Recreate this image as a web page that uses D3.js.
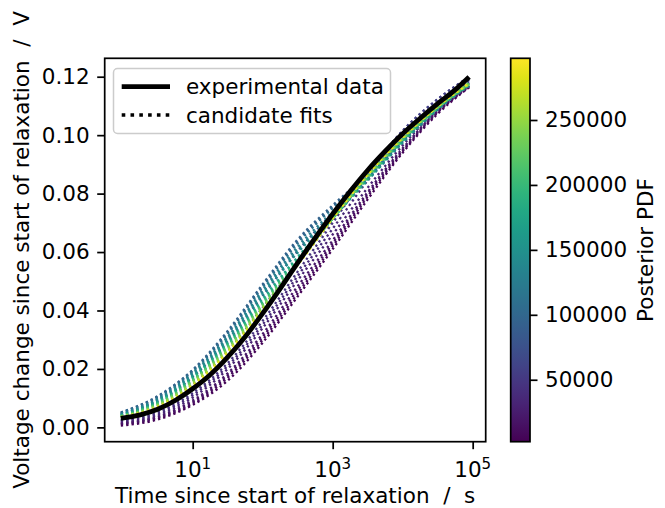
<!DOCTYPE html>
<html><head><meta charset="utf-8">
<script src="https://cdn.jsdelivr.net/npm/d3@7"></script>
<style>
body{margin:0;background:#fff}
svg{display:block}
text{font-family:"DejaVu Sans",sans-serif;fill:#000}
</style>
</head><body><svg id="c" width="665" height="508"></svg>
<script>
// ---------------- data ----------------
const expTimes   = [0.94, 1.78, 3.16, 5.62, 10, 17.8, 31.6, 56.2, 100, 178, 316, 562, 1000, 1780, 3160, 5620, 10000, 17800, 31600, 56200, 89000];
const expVoltage = [0.0031, 0.0043, 0.0062, 0.0092, 0.0132, 0.0180, 0.0240, 0.0310, 0.0390, 0.0475, 0.0563, 0.0648, 0.0730, 0.0808, 0.0880, 0.0945, 0.1005, 0.1058, 0.1108, 0.1155, 0.1199];

const fitTimes = [0.94, 3.16, 10, 31.6, 100, 316, 1000, 3160, 10000, 31600, 89000];
// candidate fits (voltage in V) and their posterior PDF values
const fitF  = [0.0006, 0.0027, 0.0077, 0.0160, 0.0290, 0.0448, 0.0610, 0.0780, 0.0940, 0.1073, 0.1164];
const fitC  = [0.0011, 0.0032, 0.0082, 0.0170, 0.0300, 0.0458, 0.0620, 0.0790, 0.0945, 0.1078, 0.1164];
const fitP2 = [0.0013, 0.0035, 0.0087, 0.0178, 0.0310, 0.0470, 0.0630, 0.0798, 0.0950, 0.1080, 0.1166];
const fitB  = [0.0016, 0.0037, 0.0092, 0.0185, 0.0320, 0.0483, 0.0640, 0.0805, 0.0955, 0.1083, 0.1169];
const fitA  = [0.0021, 0.0042, 0.0102, 0.0200, 0.0340, 0.0503, 0.0660, 0.0820, 0.0965, 0.1088, 0.1179];
const fitA2 = [0.0024, 0.0047, 0.0110, 0.0210, 0.0352, 0.0518, 0.0680, 0.0845, 0.0990, 0.1105, 0.1189];
const fitD  = [0.0026, 0.0052, 0.0117, 0.0220, 0.0365, 0.0533, 0.0700, 0.0870, 0.1015, 0.1123, 0.1199];
const fitE  = [0.0036, 0.0072, 0.0147, 0.0260, 0.0410, 0.0563, 0.0710, 0.0870, 0.1015, 0.1123, 0.1199];
const fitE2 = [0.0044, 0.0090, 0.0172, 0.0295, 0.0450, 0.0603, 0.0735, 0.0868, 0.1000, 0.1110, 0.1184];
const fitB0 = [0.0050, 0.0105, 0.0195, 0.0325, 0.0485, 0.0637, 0.0755, 0.0862, 0.0982, 0.1095, 0.1168];
const fitB1 = [0.0051, 0.0107, 0.0197, 0.0330, 0.0490, 0.0643, 0.0760, 0.0865, 0.0985, 0.1098, 0.1169];
const fitB2 = [0.0049, 0.0102, 0.0192, 0.0320, 0.0480, 0.0630, 0.0750, 0.0855, 0.0980, 0.1093, 0.1169];
const fitB3 = [0.0046, 0.0097, 0.0187, 0.0310, 0.0470, 0.0618, 0.0738, 0.0850, 0.0975, 0.1088, 0.1170];
const fitB4 = [0.0045, 0.0095, 0.0182, 0.0305, 0.0462, 0.0608, 0.0729, 0.0848, 0.0975, 0.1088, 0.1172];
const fitT1 = [0.0043, 0.0092, 0.0177, 0.0300, 0.0455, 0.0598, 0.0720, 0.0845, 0.0975, 0.1088, 0.1174];
const fitT2 = [0.0041, 0.0087, 0.0172, 0.0290, 0.0440, 0.0583, 0.0715, 0.0850, 0.0980, 0.1093, 0.1174];
const fitT3 = [0.0040, 0.0085, 0.0167, 0.0285, 0.0432, 0.0578, 0.0715, 0.0852, 0.0982, 0.1093, 0.1174];
const fitG1 = [0.0039, 0.0082, 0.0162, 0.0280, 0.0425, 0.0573, 0.0715, 0.0855, 0.0985, 0.1093, 0.1174];
const fitG3 = [0.0038, 0.0080, 0.0160, 0.0275, 0.0420, 0.0568, 0.0715, 0.0858, 0.0986, 0.1095, 0.1176];
const fitG2 = [0.0037, 0.0077, 0.0157, 0.0270, 0.0415, 0.0563, 0.0715, 0.0860, 0.0987, 0.1096, 0.1179];
const fitG4 = [0.0036, 0.0075, 0.0152, 0.0265, 0.0410, 0.0560, 0.0715, 0.0862, 0.0988, 0.1097, 0.1176];
const fitY1 = [0.0035, 0.0072, 0.0147, 0.0260, 0.0405, 0.0558, 0.0715, 0.0865, 0.0990, 0.1098, 0.1174];
const fitY2 = [0.0034, 0.0070, 0.0142, 0.0255, 0.0400, 0.0555, 0.0715, 0.0865, 0.0993, 0.1098, 0.1179];
const fitSeries    = [fitF, fitC, fitP2, fitB, fitA, fitA2, fitD, fitE, fitE2, fitB0, fitB1, fitB2, fitB3, fitB4, fitT1, fitT2, fitT3, fitG1, fitG3, fitG2, fitG4, fitY1, fitY2];
const fitPosterior = [4000, 10000, 15000, 20000, 30000, 38000, 45000, 60000, 75000, 85000, 95000, 110000, 125000, 135000, 145000, 170000, 185000, 200000, 215000, 230000, 245000, 260000, 290000];

const yTicks = [0.00, 0.02, 0.04, 0.06, 0.08, 0.10, 0.12];
const xTicks = [10, 1000, 100000];
const xTickExp = ["1", "3", "5"];
const cbTicks = [50000, 100000, 150000, 200000, 250000];

// ---------------- layout ----------------
const svg = d3.select("#c");
const FS = 21.5, LW = 1.72, TL = 7.5, TP = 7.5;
const P = {l:104.7, r:485.7, t:58.3, b:441.7};
const CB = {l:510.7, r:530, t:58.3, b:441.7};

const x = d3.scaleLog().domain([Math.pow(10,-0.257), Math.pow(10,5.186)]).range([P.l, P.r]);
const y = d3.scaleLinear().domain([-0.0049, 0.1263]).range([P.b, P.t]);
const cScale = d3.scaleLinear().domain([2300, 297500]).range([0, 1]);
const cbY = d3.scaleLinear().domain([2300, 297500]).range([CB.b, CB.t]);
const color = v => d3.interpolateViridis(cScale(v));

svg.append("rect").attr("width",665).attr("height",508).attr("fill","#fff");

svg.append("clipPath").attr("id","pc").append("rect")
  .attr("x",P.l).attr("y",P.t).attr("width",P.r-P.l).attr("height",P.b-P.t);

const line = d3.line().x(d=>x(d[0])).y(d=>y(d[1])).curve(d3.curveMonotoneX);
const gPlot = svg.append("g").attr("clip-path","url(#pc)");

// candidate fits
fitSeries.forEach((s,i)=>{
  gPlot.append("path")
    .attr("d", line(fitTimes.map((t,j)=>[t, s[j]])))
    .attr("fill","none")
    .attr("stroke", color(fitPosterior[i]))
    .attr("stroke-width", 2.3)
    .attr("stroke-dasharray", "2.3,3.1");
});
// experimental data
gPlot.append("path")
  .attr("d", line(expTimes.map((t,j)=>[t, expVoltage[j]])))
  .attr("fill","none").attr("stroke","#000").attr("stroke-width",4.8)
  .attr("stroke-linecap","butt").attr("stroke-linejoin","round");

// axes
const gx = svg.append("g").attr("transform",`translate(0,${P.b})`)
  .call(d3.axisBottom(x).tickValues(xTicks).tickSize(TL).tickPadding(TP).tickFormat(()=>""));
gx.select(".domain").remove();
gx.selectAll(".tick line").attr("stroke","#000").attr("stroke-width",LW);
gx.selectAll(".tick text").remove();
xTicks.forEach((t,i)=>{
  const tx = svg.append("text").attr("x", x(t)).attr("y", 477)
    .attr("text-anchor","middle").style("font-size", FS+"px");
  tx.append("tspan").text("10");
  tx.append("tspan").attr("dy",-8.5).style("font-size",(FS*0.7)+"px").text(xTickExp[i]);
});

const gy = svg.append("g").attr("transform",`translate(${P.l},0)`)
  .call(d3.axisLeft(y).tickValues(yTicks).tickSize(TL).tickPadding(TP).tickFormat(d3.format(".2f")));
gy.select(".domain").remove();
gy.selectAll(".tick line").attr("stroke","#000").attr("stroke-width",LW);
gy.selectAll(".tick text").style("font-size",FS+"px").attr("font-family","DejaVu Sans").attr("fill","#000");

svg.append("rect").attr("x",P.l).attr("y",P.t).attr("width",P.r-P.l).attr("height",P.b-P.t)
  .attr("fill","none").attr("stroke","#000").attr("stroke-width",LW);

// axis labels
svg.append("text").attr("x",(P.l+P.r)/2).attr("y",503).attr("text-anchor","middle")
  .style("font-size",FS+"px").style("white-space","pre").attr("xml:space","preserve")
  .text("Time since start of relaxation  /  s");
svg.append("text").attr("transform",`translate(29,${(P.t+P.b)/2}) rotate(-90)`).attr("text-anchor","middle")
  .style("font-size",FS+"px").style("white-space","pre").attr("xml:space","preserve")
  .text("Voltage change since start of relaxation  /  V");

// legend
const lg = svg.append("g");
lg.append("rect").attr("x",113.5).attr("y",68.5).attr("width",277).attr("height",65).attr("rx",4)
  .attr("fill","#fff").attr("fill-opacity",0.8).attr("stroke","#cccccc").attr("stroke-width",1.5);
lg.append("line").attr("x1",121.7).attr("x2",170).attr("y1",86.7).attr("y2",86.7)
  .attr("stroke","#000").attr("stroke-width",4.8);
lg.append("line").attr("x1",121.7).attr("x2",170).attr("y1",115).attr("y2",115)
  .attr("stroke","#000").attr("stroke-width",3.6).attr("stroke-dasharray","3.6,5.2");
lg.append("text").attr("x",186).attr("y",94.3).style("font-size",FS+"px").text("experimental data");
lg.append("text").attr("x",186).attr("y",122.6).style("font-size",FS+"px").text("candidate fits");

// colorbar
const grad = svg.append("defs").append("linearGradient").attr("id","vir")
  .attr("x1",0).attr("y1",1).attr("x2",0).attr("y2",0);
d3.range(0,1.0001,0.05).forEach(o=>{
  grad.append("stop").attr("offset",o).attr("stop-color",d3.interpolateViridis(o));
});
svg.append("rect").attr("x",CB.l).attr("y",CB.t).attr("width",CB.r-CB.l).attr("height",CB.b-CB.t)
  .attr("fill","url(#vir)").attr("stroke","#000").attr("stroke-width",LW);
const gc = svg.append("g").attr("transform",`translate(${CB.r},0)`)
  .call(d3.axisRight(cbY).tickValues(cbTicks).tickSize(TL).tickPadding(TP).tickFormat(d3.format("d")));
gc.select(".domain").remove();
gc.selectAll(".tick line").attr("stroke","#000").attr("stroke-width",LW);
gc.selectAll(".tick text").style("font-size",FS+"px").attr("font-family","DejaVu Sans").attr("fill","#000");
svg.append("text").attr("transform",`translate(653,${(CB.t+CB.b)/2}) rotate(-90)`).attr("text-anchor","middle")
  .style("font-size",FS+"px").text("Posterior PDF");
</script>
</body></html>
